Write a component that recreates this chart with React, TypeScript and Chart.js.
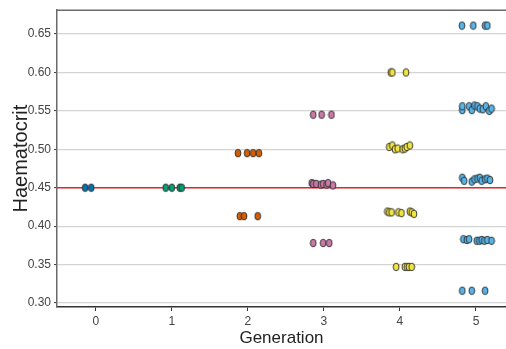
import React, { useEffect, useRef } from "react";
import { Chart, registerables } from "chart.js";

Chart.register(...registerables);

const generations = [0, 1, 2, 3, 4, 5];
const genColors = ["#0072B2", "#009E73", "#D55E00", "#CC79A7", "#F0E442", "#56B4E9"];
const yTickValues = [0.3, 0.35, 0.4, 0.45, 0.5, 0.55, 0.6, 0.65];
const xTickValues = [0, 1, 2, 3, 4, 5];
const referenceLevel = 0.45;

// horizontal jitter offsets (relative to generation) and haematocrit values
const gen0Jitter = [-0.14, -0.06];
const gen0Values = [0.45, 0.45];

const gen1Jitter = [-0.08, 0.0, 0.105, 0.13];
const gen1Values = [0.45, 0.45, 0.45, 0.45];

const gen2Jitter = [-0.13, -0.01, 0.07, 0.145, -0.105, -0.05, 0.13];
const gen2Values = [0.495, 0.495, 0.495, 0.495, 0.413, 0.413, 0.413];

const gen3Jitter = [
  -0.14, -0.03, 0.1,
  -0.16, -0.14, -0.1, -0.04, -0.01, 0.035, 0.055, 0.12,
  -0.14, -0.01, 0.07,
];
const gen3Values = [
  0.545, 0.545, 0.545,
  0.456, 0.455, 0.455, 0.454, 0.455, 0.454, 0.456, 0.453,
  0.378, 0.378, 0.378,
];

const gen4Jitter = [
  -0.12, -0.1, 0.08,
  -0.14, -0.1, -0.065, -0.03, 0.035, 0.065, 0.09, 0.13,
  -0.165, -0.14, -0.11, -0.02, 0.02, 0.13, 0.155, 0.185,
  -0.05, 0.065, 0.095, 0.12, 0.155,
];
const gen4Values = [
  0.6, 0.6, 0.6,
  0.503, 0.505, 0.5, 0.501, 0.5, 0.501, 0.503, 0.505,
  0.419, 0.418, 0.418, 0.418, 0.417, 0.419, 0.418, 0.416,
  0.347, 0.347, 0.347, 0.347, 0.347,
];

const gen5Jitter = [
  -0.185, -0.035, 0.12, 0.15,
  -0.18, -0.18, -0.09, -0.055, -0.02, 0.02, 0.05, 0.09, 0.13, 0.175, 0.205,
  -0.18, -0.155, -0.055, -0.02, 0.02, 0.05, 0.075, 0.12, 0.15, 0.185,
  -0.165, -0.12, -0.09, 0.01, 0.045, 0.075, 0.11, 0.15, 0.205,
  -0.18, -0.055, 0.12,
];
const gen5Values = [
  0.661, 0.661, 0.661, 0.661,
  0.551, 0.556, 0.556, 0.551, 0.557, 0.556, 0.553, 0.552, 0.556, 0.55, 0.553,
  0.463, 0.459, 0.458, 0.461, 0.462, 0.463, 0.459, 0.461, 0.462, 0.46,
  0.383, 0.382, 0.383, 0.381, 0.381, 0.382, 0.381, 0.382, 0.381,
  0.316, 0.316, 0.316,
];

const allJitter = [gen0Jitter, gen1Jitter, gen2Jitter, gen3Jitter, gen4Jitter, gen5Jitter];
const allValues = [gen0Values, gen1Values, gen2Values, gen3Values, gen4Values, gen5Values];

const FONT = "'Liberation Sans', Arial, sans-serif";

function makeEllipse(color: string): HTMLCanvasElement {
  const c = document.createElement("canvas");
  c.width = 8;
  c.height = 10;
  const ctx = c.getContext("2d")!;
  ctx.beginPath();
  ctx.ellipse(4, 5, 2.9, 3.8, 0, 0, Math.PI * 2);
  ctx.fillStyle = color;
  ctx.fill();
  ctx.lineWidth = 0.9;
  ctx.strokeStyle = "#2a2a2a";
  ctx.stroke();
  return c;
}

const topBorder = {
  id: "topBorder",
  afterDraw(chart: any) {
    const { ctx, chartArea } = chart;
    ctx.save();
    ctx.strokeStyle = "#6a6a6a";
    ctx.lineWidth = 1.5;
    ctx.beginPath();
    ctx.moveTo(chartArea.left - 0.75, chartArea.top);
    ctx.lineTo(chartArea.right + 10, chartArea.top);
    ctx.stroke();
    ctx.restore();
  },
};

export default function App() {
  const ref = useRef<HTMLCanvasElement | null>(null);
  useEffect(() => {
    if (!ref.current) return;
    const pointDatasets = generations.map((g, i) => ({
      type: "scatter" as const,
      label: "Generation " + g,
      data: allValues[i].map((v, k) => ({ x: g + allJitter[i][k], y: v })),
      pointStyle: makeEllipse(genColors[i]),
      backgroundColor: genColors[i],
      order: 1,
    }));
    const chart = new Chart(ref.current, {
      type: "scatter",
      data: {
        datasets: [
          ...pointDatasets,
          {
            type: "line" as const,
            label: "ref",
            data: [
              { x: -1, y: referenceLevel },
              { x: 7, y: referenceLevel },
            ],
            borderColor: "#e3292b",
            borderWidth: 1.5,
            pointRadius: 0,
            showLine: true,
            order: 10,
          } as any,
        ],
      },
      options: {
        animation: false,
        responsive: false,
        layout: { padding: { top: 10, right: 0, left: 0, bottom: 0 } },
        plugins: { legend: { display: false }, tooltip: { enabled: false } },
        scales: {
          x: {
            type: "linear",
            min: -0.51,
            max: 5.395,
            afterBuildTicks: (s: any) => {
              s.ticks = xTickValues.map((v) => ({ value: v }));
            },
            afterFit: (s: any) => {
              s.height = 42;
            },
            grid: {
              drawOnChartArea: false,
              drawTicks: true,
              tickLength: 4,
              tickColor: "#333",
              tickWidth: 1,
            },
            border: { color: "#333", width: 1.5 },
            ticks: {
              color: "#444",
              padding: 3,
              font: { family: FONT, size: 12 },
              callback: (v: any) => String(v),
            },
            title: {
              display: true,
              text: "Generation",
              color: "#222",
              font: { family: FONT, size: 17 },
              padding: { top: 0, bottom: 0 },
            },
          },
          y: {
            type: "linear",
            min: 0.2948,
            max: 0.681,
            afterBuildTicks: (s: any) => {
              s.ticks = yTickValues.map((v) => ({ value: v }));
            },
            afterFit: (s: any) => {
              s.width = 57;
            },
            grid: {
              color: "#d4d4d4",
              lineWidth: 1.2,
              drawTicks: true,
              tickLength: 3,
              tickColor: "#333",
              tickWidth: 1,
            },
            border: { color: "#6a6a6a", width: 1.5 },
            ticks: {
              color: "#444",
              padding: 3,
              font: { family: FONT, size: 12 },
              callback: (v: any) => Number(v).toFixed(2),
            },
            title: {
              display: true,
              text: "Haematocrit",
              color: "#222",
              font: { family: FONT, size: 20 },
              padding: { top: 9, bottom: 0 },
            },
          },
        },
      },
      plugins: [topBorder],
    } as any);
    return () => chart.destroy();
  }, []);
  return (
    <div style={{ position: "absolute", left: 0, top: 0, width: 506, height: 349, overflow: "hidden" }}>
      <canvas ref={ref} width={511} height={349} style={{ display: "block" }} />
    </div>
  );
}
